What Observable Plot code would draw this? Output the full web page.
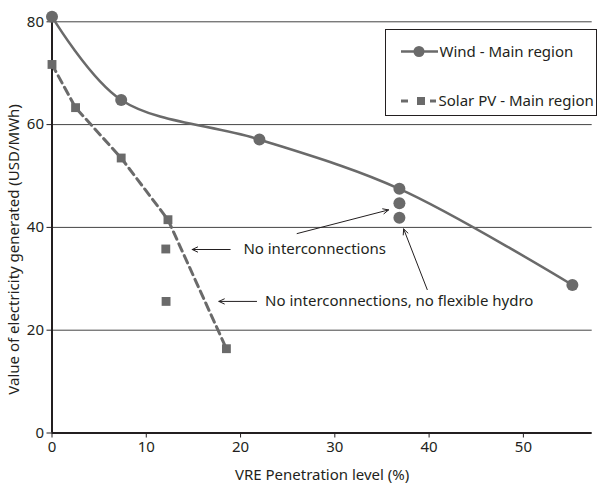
<!DOCTYPE html>
<html>
<head>
<meta charset="utf-8">
<script src="https://cdn.jsdelivr.net/npm/d3@7"></script>
<script src="https://cdn.jsdelivr.net/npm/@observablehq/plot@0.6"></script>
<style>
  html, body { margin: 0; padding: 0; background: #fff; }
  #wrap { position: relative; width: 598px; height: 484px; font-family: "Noto Sans", sans-serif; color: #231f20; }
  #legend { position: absolute; left: 385px; top: 29px; width: 212px; height: 87px; border: 1px solid #231f20; background: #fff; box-sizing: border-box; }
  #legend svg { position: absolute; left: 0; top: 0; }
</style>
</head>
<body>
<div id="wrap"></div>
<script>
// Wind - Main region
const windX = [0, 7.34, 22.0, 36.85, 55.2];
const windY = [81.0, 64.8, 57.1, 47.5, 28.8];
// Wind extra scenarios (no interconnections / no flexible hydro)
const windAltX = [36.85, 36.85];
const windAltY = [44.7, 41.9];
// Solar PV - Main region
const solarX = [0, 2.5, 7.34, 12.3, 18.5];
const solarY = [71.7, 63.3, 53.5, 41.5, 16.4];
// Solar extra scenarios
const solarAltX = [12.07, 12.1];
const solarAltY = [35.8, 25.6];
// Annotation labels
const noteText = ["No interconnections", "No interconnections, no flexible hydro"];
const noteX = [20.3, 22.6];
const noteY = [35.7, 25.6];
// Annotation arrows (start -> end)
const arrowX1 = [26.0, 18.9, 21.7, 39.8];
const arrowY1 = [38.8, 35.7, 25.6, 27.9];
const arrowX2 = [35.7, 14.87, 17.7, 37.3];
const arrowY2 = [43.4, 35.7, 25.6, 39.7];
// Ticks
const xTicks = [0, 10, 20, 30, 40, 50];
const yTicks = [0, 20, 40, 60, 80];
const gridTicks = [20, 40, 60, 80];
// Axis titles and legend labels
const xTitle = "VRE Penetration level (%)";
const yTitle = "Value of electricity generated (USD/MWh)";
const legendLabels = ["Wind - Main region", "Solar PV - Main region"];

const wind = windX.map((x, i) => ({x, y: windY[i]}));
const windAlt = windAltX.map((x, i) => ({x, y: windAltY[i]}));
const solar = solarX.map((x, i) => ({x, y: solarY[i]}));
const solarAlt = solarAltX.map((x, i) => ({x, y: solarAltY[i]}));
const notes = noteText.map((t, i) => ({t, x: noteX[i], y: noteY[i]}));
const arrows = arrowX1.map((x1, i) => ({x1, y1: arrowY1[i], x2: arrowX2[i], y2: arrowY2[i]}));

const ink = "#231f20";
const grey = "#6a6a6a";
const font = "'Noto Sans', 'Open Sans', sans-serif";

const chart = Plot.plot({
  width: 598,
  height: 484,
  marginLeft: 51.5,
  marginRight: 6.3,
  marginTop: 21.3,
  marginBottom: 51.5,
  style: {fontFamily: font, fontSize: "15px", color: ink, background: "#fff"},
  x: {domain: [0, 57.3]},
  y: {domain: [0, 80]},
  marks: [
    Plot.ruleY(gridTicks, {stroke: "#444", strokeWidth: 1}),
    Plot.axisX({ticks: xTicks, tickSize: 5, tickPadding: 3, fontSize: 15, stroke: ink,
      label: xTitle, labelAnchor: "center", labelArrow: false, labelOffset: 47}),
    Plot.axisY({ticks: yTicks, tickSize: 5, tickPadding: 3, fontSize: 15, stroke: ink, label: null}),
    Plot.text([yTitle], {frameAnchor: "left", textAnchor: "middle", lineAnchor: "middle", rotate: -90, dx: -38, dy: 22, fontSize: 15, fill: ink, text: d => d}),
    Plot.ruleY([0], {stroke: ink, strokeWidth: 2}),
    Plot.ruleX([0], {stroke: ink, strokeWidth: 2}),
    Plot.line(solar, {x: "x", y: "y", stroke: grey, strokeWidth: 3, strokeDasharray: "8 5"}),
    Plot.line(wind, {x: "x", y: "y", stroke: grey, strokeWidth: 2.5, curve: "catmull-rom"}),
    Plot.dot(wind, {x: "x", y: "y", r: 6, fill: grey}),
    Plot.dot(windAlt, {x: "x", y: "y", r: 6, fill: grey}),
    Plot.dot(solar, {x: "x", y: "y", r: 5, symbol: "square", fill: grey}),
    Plot.dot(solarAlt, {x: "x", y: "y", r: 5, symbol: "square", fill: grey}),
    Plot.arrow(arrows, {x1: "x1", y1: "y1", x2: "x2", y2: "y2", stroke: ink, strokeWidth: 1, headLength: 9, headAngle: 50}),
    Plot.text(notes, {x: "x", y: "y", text: "t", textAnchor: "start", fontSize: 15, fill: ink})
  ]
});

const wrap = document.getElementById("wrap");
wrap.appendChild(chart);

// Legend overlay
const legend = document.createElement("div");
legend.id = "legend";
const ns = "http://www.w3.org/2000/svg";
const lsvg = document.createElementNS(ns, "svg");
lsvg.setAttribute("width", 212);
lsvg.setAttribute("height", 87);
function el(tag, attrs) {
  const e = document.createElementNS(ns, tag);
  for (const k in attrs) e.setAttribute(k, attrs[k]);
  lsvg.appendChild(e);
  return e;
}
// Wind row
el("line", {x1: 15, x2: 52, y1: 21.5, y2: 21.5, stroke: grey, "stroke-width": 2.5});
el("circle", {cx: 33, cy: 21.5, r: 5.5, fill: grey});
// Solar row
el("line", {x1: 15, x2: 22, y1: 71, y2: 71, stroke: grey, "stroke-width": 3});
el("rect", {x: 31, y: 67, width: 8, height: 8, fill: grey});
el("line", {x1: 44, x2: 50, y1: 71, y2: 71, stroke: grey, "stroke-width": 3});
[21.5, 71].forEach((y, i) => {
  const t = el("text", {x: i === 0 ? 53.5 : 52.5, y, dy: "0.35em", "font-size": 15, "font-family": font, fill: ink});
  t.textContent = legendLabels[i];
});
legend.appendChild(lsvg);
wrap.appendChild(legend);
</script>
</body>
</html>
